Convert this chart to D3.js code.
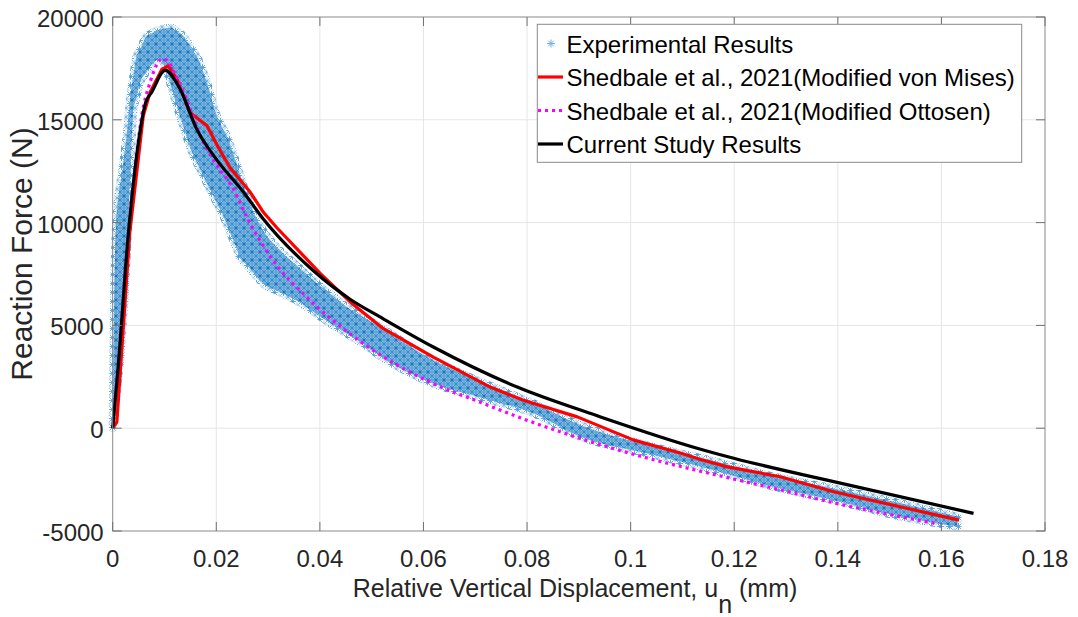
<!DOCTYPE html>
<html>
<head>
<meta charset="UTF-8">
<title>Reaction Force vs Displacement</title>
<style>
  body { margin: 0; background: #fff; }
  svg { display: block; font-family: "Liberation Sans", Arial, sans-serif; }
  .tick-label { font-size: 24px; fill: #262626; }
  .grid line { stroke: #e6e6e6; stroke-width: 1; }
</style>
</head>
<body>
<div id="chart"></div>
<script src="https://d3js.org/d3.v7.min.js"></script>
<script>
// experimental band: upper and lower envelope of the test points [u, force]
const expUpper = [[0,0],[0.0002,5000],[0.0005,9000],[0.0012,11500],[0.002,12800],[0.0028,14500],[0.0034,16200],
  [0.0046,18100],[0.0066,19080],[0.0091,19400],[0.0114,19480],[0.0136,19080],[0.0162,18100],[0.0182,16810],
  [0.0201,15190],[0.022,14220],[0.024,12800],[0.0259,11300],[0.0291,9600],[0.0323,8640],[0.0388,7180],
  [0.0452,5900],[0.0517,4900],[0.0619,3300],[0.0716,2200],[0.0813,1200],[0.0903,150],[0.1032,-830],
  [0.1161,-1600],[0.1264,-2280],[0.1392,-2930],[0.1521,-3650],[0.1631,-4300]];
const expLower = [[0,0],[0.0015,3500],[0.0022,6000],[0.003,10000],[0.0036,13500],[0.004,15500],[0.0053,16800],
  [0.0072,17600],[0.0091,17950],[0.0105,17300],[0.012,16000],[0.0136,14700],[0.0156,13250],[0.0182,11900],
  [0.0214,10300],[0.0246,8320],[0.0291,7020],[0.0356,6200],[0.042,5100],[0.0484,4100],[0.0517,3500],
  [0.0619,2170],[0.0716,1450],[0.0813,714],[0.0903,-420],[0.1032,-1230],[0.1161,-2040],[0.1264,-2770],
  [0.1392,-3500],[0.1521,-4300],[0.1631,-4790]];

const vonMises = [[0,0],[0.0008,300],[0.0033,9530],[0.0059,15190],[0.0072,16330],[0.0095,17460],[0.0107,17620],
  [0.0124,16980],[0.0149,15350],[0.0182,14710],[0.0204,13650],[0.0227,12650],[0.0265,11500],[0.0291,10500],
  [0.0317,9750],[0.0401,7520],[0.0459,6130],[0.0522,4850],[0.0619,3460],[0.0729,2000],[0.0793,1360],
  [0.0897,550],[0.1006,-580],[0.1096,-1210],[0.1135,-1520],[0.1187,-1880],[0.1289,-2360],[0.1392,-3090],
  [0.1634,-4470]];

const ottosen = [[0,0],[0.0015,4500],[0.003,9300],[0.0046,13300],[0.0056,15190],[0.0072,16810],[0.0095,17950],
  [0.0105,17900],[0.012,17220],[0.014,16160],[0.0169,14220],[0.0201,12800],[0.0233,11640],[0.0259,10260],
  [0.031,8150],[0.0375,6370],[0.0455,4650],[0.0523,3460],[0.0619,2170],[0.0716,1200],[0.0793,450],
  [0.0903,-500],[0.1032,-1450],[0.1161,-2250],[0.1264,-2850],[0.1405,-3700],[0.1595,-4660]];

const current = [[0,0],[0.001,2800],[0.003,9400],[0.0043,12600],[0.0064,15870],[0.0075,16330],[0.0101,17400],
  [0.013,16500],[0.0162,14560],[0.0201,13050],[0.0252,11500],[0.029,10200],[0.0387,7670],[0.0459,6260],
  [0.0517,5400],[0.0619,3950],[0.0781,2000],[0.0942,550],[0.1135,-1020],[0.1199,-1460],[0.1392,-2600],
  [0.1662,-4140]];

const xTicks = [0, 0.02, 0.04, 0.06, 0.08, 0.1, 0.12, 0.14, 0.16, 0.18];
const yTicks = [-5000, 0, 5000, 10000, 15000, 20000];
const legendNames = ["Experimental Results", "Shedbale et al., 2021(Modified von Mises)",
  "Shedbale et al., 2021(Modified Ottosen)", "Current Study Results"];

const width = 1078, height = 617;
const axL = 112.7, axR = 1045, axT = 17, axB = 531;

const svg = d3.select("#chart").append("svg").attr("width", width).attr("height", height);

const x = d3.scaleLinear().domain([0, 0.18]).range([axL, axR]);
const y = d3.scaleLinear().domain([-5000, 20000]).range([axB, axT]);

// asterisk texture for the dense marker cloud
const defs = svg.append("defs");
function star(g, cx, cy, r, col, w) {
  const p = `M${cx-r},${cy}H${cx+r}M${cx},${cy-r}V${cy+r}M${cx-r*0.7},${cy-r*0.7}L${cx+r*0.7},${cy+r*0.7}M${cx-r*0.7},${cy+r*0.7}L${cx+r*0.7},${cy-r*0.7}`;
  g.append("path").attr("d", p).attr("stroke", col).attr("stroke-width", w).attr("fill", "none");
}
function makePattern(id, size, bg, c1, c2) {
  const pat = defs.append("pattern").attr("id", id).attr("patternUnits", "userSpaceOnUse")
    .attr("width", size).attr("height", size);
  if (bg) pat.append("rect").attr("width", size).attr("height", size).attr("fill", bg);
  const h = size / 2;
  star(pat, h, h, 3.6, c1, 0.8);
  [[0, 0], [size, 0], [0, size], [size, size]].forEach(p => star(pat, p[0], p[1], 3.6, c2, 0.7));
}
makePattern("stars", 8, "#94c3e8", "#0a6fb8", "#2a84c8");
makePattern("starsEdge", 9, null, "#3d93d3", "#6aaee2");

// grid
const grid = svg.append("g").attr("class", "grid");
grid.selectAll(".gx").data(xTicks.slice(1, -1)).join("line")
  .attr("x1", d => x(d)).attr("x2", d => x(d)).attr("y1", axT).attr("y2", axB);
grid.selectAll(".gy").data(yTicks.slice(1, -1)).join("line")
  .attr("class", "gy").attr("y1", d => y(d)).attr("y2", d => y(d)).attr("x1", axL).attr("x2", axR);

// experimental band
const band = [];
const bx = Array.from(new Set(expUpper.map(d => d[0]).concat(expLower.map(d => d[0])))).sort((a, b) => a - b);
const upF = d3.scaleLinear().domain(expUpper.map(d => d[0])).range(expUpper.map(d => d[1]));
const loF = d3.scaleLinear().domain(expLower.map(d => d[0])).range(expLower.map(d => d[1]));
bx.forEach(u => band.push({u, lo: loF(u), hi: upF(u)}));
const area = d3.area().x(d => x(d.u)).y0(d => y(d.lo)).y1(d => y(d.hi)).curve(d3.curveMonotoneX);
svg.append("path").datum(band).attr("d", area)
  .attr("fill", "none").attr("stroke", "url(#starsEdge)").attr("stroke-width", 8)
  .attr("stroke-linejoin", "round");
svg.append("path").datum(band).attr("d", area).attr("fill", "url(#stars)");

// model curves
const line = d3.line().x(d => x(d[0])).y(d => y(d[1]));
const smooth = d3.line().x(d => x(d[0])).y(d => y(d[1])).curve(d3.curveMonotoneX);
svg.append("path").datum(vonMises).attr("d", line).attr("fill", "none")
  .attr("stroke", "#ff0000").attr("stroke-width", 3.2).attr("stroke-linejoin", "round");
svg.append("path").datum(ottosen).attr("d", smooth).attr("fill", "none")
  .attr("stroke", "#ff00ff").attr("stroke-width", 3.2).attr("stroke-dasharray", "3,4");
svg.append("path").datum(current).attr("d", smooth).attr("fill", "none")
  .attr("stroke", "#000").attr("stroke-width", 3.2).attr("stroke-linejoin", "round");

// axes box and ticks (MATLAB style, inward ticks on all sides)
const axCol = "#8a8a8a";
svg.append("rect").attr("x", axL).attr("y", axT).attr("width", axR - axL).attr("height", axB - axT)
  .attr("fill", "none").attr("stroke", axCol).attr("stroke-width", 1);
const tk = svg.append("g").attr("stroke", "#707070").attr("stroke-width", 1);
xTicks.forEach(d => {
  tk.append("line").attr("x1", x(d)).attr("x2", x(d)).attr("y1", axB).attr("y2", axB - 9);
  tk.append("line").attr("x1", x(d)).attr("x2", x(d)).attr("y1", axT).attr("y2", axT + 9);
});
yTicks.forEach(d => {
  tk.append("line").attr("y1", y(d)).attr("y2", y(d)).attr("x1", axL).attr("x2", axL + 9);
  tk.append("line").attr("y1", y(d)).attr("y2", y(d)).attr("x1", axR).attr("x2", axR - 9);
});

svg.selectAll(".xl").data(xTicks).join("text").attr("class", "tick-label")
  .attr("x", d => x(d)).attr("y", axB + 36).attr("text-anchor", "middle").text(d => d);
svg.selectAll(".yl").data(yTicks).join("text").attr("class", "tick-label")
  .attr("x", axL - 9).attr("y", d => y(d) + 10).attr("text-anchor", "end").text(d => d);

// axis titles
const xt = svg.append("text").attr("x", 575).attr("y", 597).attr("text-anchor", "middle")
  .attr("font-size", 25).attr("fill", "#262626");
xt.append("tspan").text("Relative Vertical Displacement, u");
xt.append("tspan").attr("dy", 16).text("n");
xt.append("tspan").attr("dy", -16).text(" (mm)");
svg.append("text").attr("transform", "translate(32,254) rotate(-90)").attr("text-anchor", "middle")
  .attr("font-size", 30).attr("fill", "#262626").text("Reaction Force (N)");

// legend
const lg = svg.append("g");
lg.append("rect").attr("x", 537.3).attr("y", 24.3).attr("width", 484.4).attr("height", 138)
  .attr("fill", "#fff").attr("stroke", axCol).attr("stroke-width", 1);
const rowsY = [43.5, 77, 110.5, 144];
star(lg, 551, rowsY[0], 4, "#6fb2e6", 1);
const legStyles = [null, {c: "#ff0000", d: null}, {c: "#ff00ff", d: "3,4"}, {c: "#000", d: null}];
legStyles.forEach((s, i) => {
  if (!s) return;
  lg.append("line").attr("x1", 538).attr("x2", 563).attr("y1", rowsY[i]).attr("y2", rowsY[i])
    .attr("stroke", s.c).attr("stroke-width", 3.2).attr("stroke-dasharray", s.d);
});
lg.selectAll(".lt").data(legendNames).join("text")
  .attr("x", 566.5).attr("y", (d, i) => rowsY[i] + 9).attr("font-size", 24).attr("fill", "#000").text(d => d);
</script>
</body>
</html>
